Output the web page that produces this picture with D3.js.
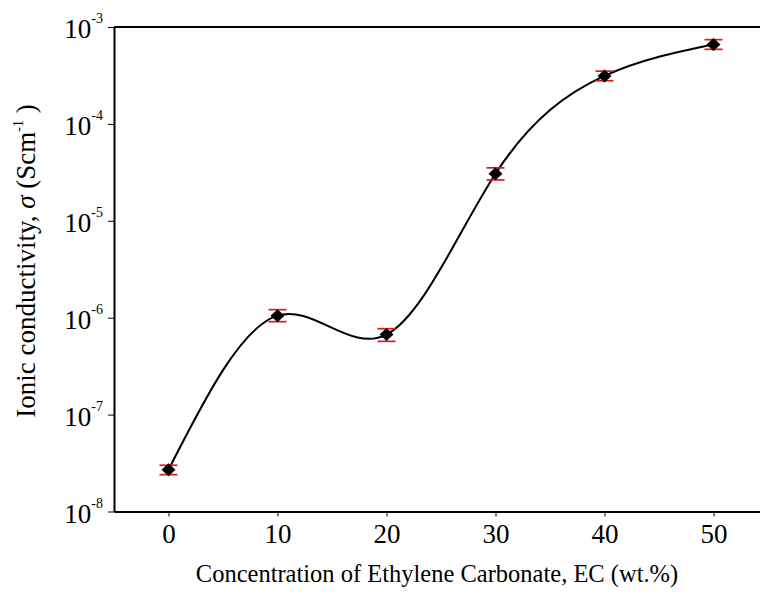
<!DOCTYPE html>
<html>
<head>
<meta charset="utf-8">
<script src="https://cdn.jsdelivr.net/npm/d3@7"></script>
<style>
  html, body { margin: 0; padding: 0; background: #fff; }
  svg { display: block; }
  text { font-family: "Liberation Serif", "Times New Roman", serif; fill: #000; }
</style>
</head>
<body>
<svg id="chart" width="760" height="594"></svg>
<script>
// ---- data ----
const ecContent = [0, 10, 20, 30, 40, 50];
const conductivity = [2.7e-8, 1.05e-6, 6.7e-7, 3.06e-5, 3.13e-4, 6.6e-4];
const errUpper = [0.3e-8, 0.16e-6, 0.10e-6, 0.46e-5, 0.37e-4, 0.80e-4];
const errLower = [0.3e-8, 0.14e-6, 0.10e-6, 0.42e-5, 0.34e-4, 0.72e-4];
const xTicks = [0, 10, 20, 30, 40, 50];
const yTickExponents = [-8, -7, -6, -5, -4, -3];

const points = ecContent.map((v, i) => ({
  x: v, y: conductivity[i], hi: conductivity[i] + errUpper[i], lo: conductivity[i] - errLower[i]
}));

const svg = d3.select("#chart");
const pLeft = 114, pRight = 768, pTop = 27, pBottom = 511.5;
const serif = '"Liberation Serif", "Times New Roman", serif';

const x = d3.scaleLinear().domain([-5, 55]).range([pLeft, pRight]);
const y = d3.scaleLog().domain([1e-8, 1e-3]).range([pBottom, pTop]);

// top border line
svg.append("line")
  .attr("x1", pLeft).attr("x2", pRight)
  .attr("y1", y(1e-3)).attr("y2", y(1e-3))
  .attr("stroke", "#000").attr("stroke-width", 2);

// x axis
const xAxis = svg.append("g")
  .attr("transform", `translate(0,${pBottom})`)
  .call(d3.axisBottom(x).tickValues(xTicks).tickSize(5).tickSizeOuter(0));
xAxis.select(".domain").attr("stroke-width", 2);
xAxis.selectAll(".tick line").attr("stroke-width", 1);
xAxis.selectAll(".tick text")
  .style("font-family", serif)
  .style("font-size", "27px")
  .attr("fill", "#000")
  .attr("y", 31.5).attr("dy", 0);

// y axis
const yAxis = svg.append("g")
  .attr("transform", `translate(${pLeft},0)`)
  .call(d3.axisLeft(y).tickValues(yTickExponents.map(e => Math.pow(10, e)))
    .tickSize(6).tickSizeOuter(0).tickFormat(() => ""));
yAxis.select(".domain").attr("stroke-width", 2);
yAxis.selectAll(".tick line").attr("stroke-width", 1);
yAxis.selectAll(".tick text").each(function(d) {
  const t = d3.select(this)
    .style("font-family", serif)
    .style("font-size", "27px")
    .attr("fill", "#000")
    .attr("x", -11).attr("dy", 10.5);
  t.append("tspan").text("10");
  t.append("tspan").style("font-size", "14px").attr("dy", -15)
    .text(String(Math.round(Math.log10(d))));
});

// curve
const line = d3.line()
  .x(d => x(d.x)).y(d => y(d.y))
  .curve(d3.curveNatural);
svg.append("path")
  .datum(points)
  .attr("d", line)
  .attr("fill", "none")
  .attr("stroke", "#000")
  .attr("stroke-width", 2);

// error bars
const eb = svg.append("g").attr("stroke", "#e0161b").attr("stroke-width", 1.7);
points.forEach(p => {
  eb.append("line").attr("x1", x(p.x)).attr("x2", x(p.x)).attr("y1", y(p.hi)).attr("y2", y(p.lo));
  eb.append("line").attr("x1", x(p.x) - 9).attr("x2", x(p.x) + 9).attr("y1", y(p.hi)).attr("y2", y(p.hi));
  eb.append("line").attr("x1", x(p.x) - 9).attr("x2", x(p.x) + 9).attr("y1", y(p.lo)).attr("y2", y(p.lo));
});

// markers (diamonds)
svg.append("g").selectAll("path")
  .data(points).join("path")
  .attr("transform", d => `translate(${x(d.x)},${y(d.y)})`)
  .attr("d", "M0,-6.5L7,0L0,6.5L-7,0Z")
  .attr("fill", "#000");

// axis titles
svg.append("text")
  .attr("x", 437).attr("y", 582)
  .attr("text-anchor", "middle")
  .style("font-size", "24.5px")
  .text("Concentration of Ethylene Carbonate, EC (wt.%)");

const yt = svg.append("text")
  .attr("transform", "translate(35,261) rotate(-90)")
  .attr("text-anchor", "middle")
  .style("font-size", "27px");
yt.append("tspan").text("Ionic conductivity, ");
yt.append("tspan").attr("font-style", "italic").text("σ");
yt.append("tspan").text(" (Scm");
yt.append("tspan").style("font-size", "14px").attr("dy", -12).text("-1");
yt.append("tspan").attr("dy", 12).text(" )");
</script>
</body>
</html>
